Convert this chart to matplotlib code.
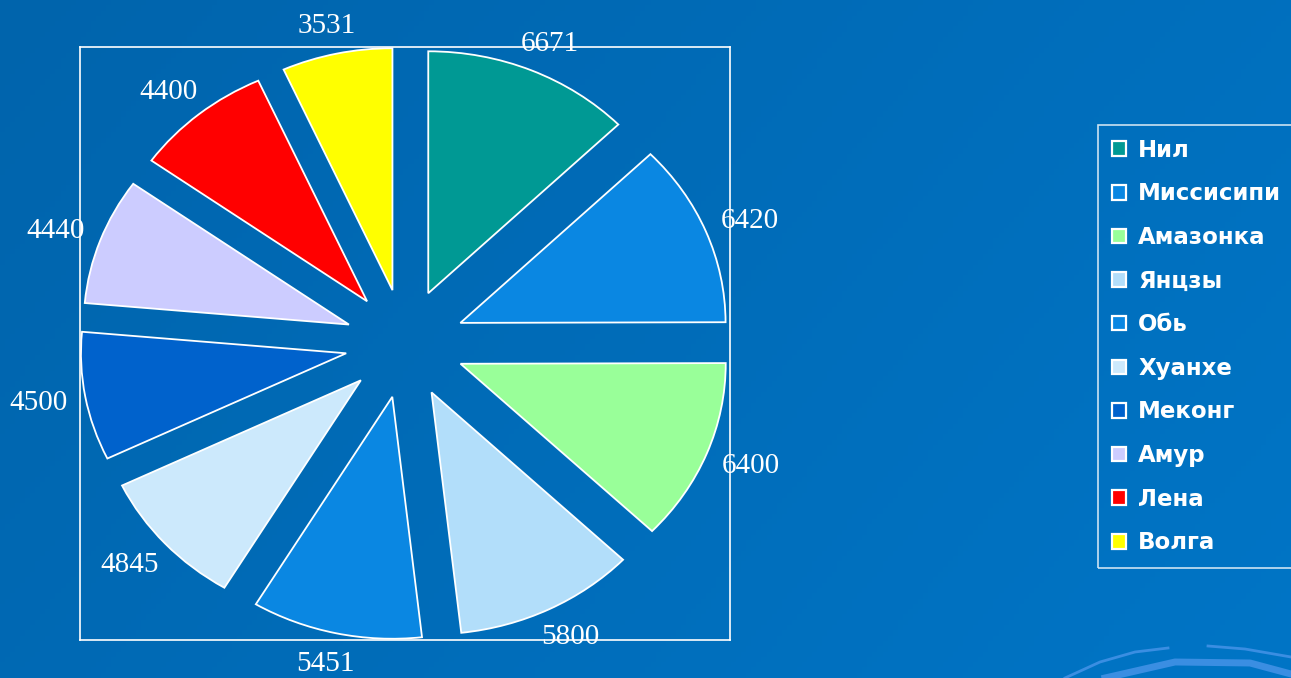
#!/usr/bin/env python3
"""Longest rivers of the world: exploded pie on a blue slide background."""

import numpy as np
import matplotlib
matplotlib.use("Agg")
import matplotlib.pyplot as plt

RIVERS = ["Нил", "Миссисипи", "Амазонка", "Янцзы", "Обь",
          "Хуанхе", "Меконг", "Амур", "Лена", "Волга"]
LENGTHS = [6671, 6420, 6400, 5800, 5451, 4845, 4500, 4440, 4400, 3531]
COLORS = ["#009994", "#0A87E2", "#99FF99", "#B2DEFA", "#0A87E2",
          "#CCE9FC", "#0062CC", "#CCCCFF", "#FF0000", "#FFFF00"]

W, H = 1291, 678


def main():
    fig = plt.figure(figsize=(W / 100, H / 100), dpi=100)

    # slide background gradient
    bg = fig.add_axes([0, 0, 1, 1])
    gx = np.linspace(0, 1, 256)
    gy = np.linspace(0, 1, 128)
    t = (gx[None, :] * 0.7 + gy[:, None] * 0.3)
    c0 = np.array([0, 100, 172]) / 255
    c1 = np.array([0, 117, 198]) / 255
    img = c0 + (c1 - c0) * t[..., None]
    bg.imshow(img, extent=(0, W, H, 0), aspect="auto", origin="upper")
    # decorative arcs bottom right
    arc = "#3A8EE2"
    bg.plot([1065, 1100, 1135, 1168], [678, 662, 652, 648], color=arc, lw=2)
    bg.plot([1208, 1245, 1291], [646, 649, 657], color=arc, lw=2)
    bg.plot([1105, 1140, 1175, 1250, 1291], [678, 670, 662, 663, 674],
            color=arc, lw=5)
    bg.set_xlim(0, W)
    bg.set_ylim(H, 0)
    bg.axis("off")

    ax = fig.add_axes([80 / W, 1 - 640 / H, 650 / W, 593 / H])
    wedges, texts = ax.pie(
        LENGTHS, colors=COLORS, labels=[str(v) for v in LENGTHS],
        startangle=90, counterclock=False, explode=[0.23] * len(LENGTHS),
        radius=1.02, labeldistance=1.18,
        wedgeprops=dict(edgecolor="white", linewidth=1.3),
        textprops=dict(color="white", fontsize=21, family="Liberation Serif"),
    )
    # labels sit on a slightly flatter ring than the wedges
    for t in texts:
        x, y = t.get_position()
        t.set_position((x, y * 0.96 - 0.005))
        t.set_ha("center")
        t.set_va("center")
    ax.set_aspect("auto")
    ax.set_xlim(-1.25, 1.25)
    ax.set_ylim(-1.25, 1.25)
    ax.set_frame_on(True)
    ax.patch.set_visible(False)
    for s in ax.spines.values():
        s.set_color("white")
        s.set_linewidth(1.2)

    leg = ax.legend(wedges, RIVERS, loc="upper left",
                    bbox_to_anchor=(1098 / W, 1 - 125 / H),
                    bbox_transform=fig.transFigure, borderaxespad=0,
                    frameon=True, fancybox=False, labelspacing=0.9,
                    handlelength=0.6, handleheight=0.6, handletextpad=0.55,
                    borderpad=0.6,
                    prop=dict(family="DejaVu Sans", weight="bold", size=16.5))
    leg.get_frame().set_facecolor("none")
    leg.get_frame().set_edgecolor("white")
    leg.get_frame().set_linewidth(1.2)
    for txt in leg.get_texts():
        txt.set_color("white")
    for h in leg.legend_handles:
        h.set_linewidth(1.6)

    fig.savefig("out.png", dpi=100)


if __name__ == "__main__":
    main()
